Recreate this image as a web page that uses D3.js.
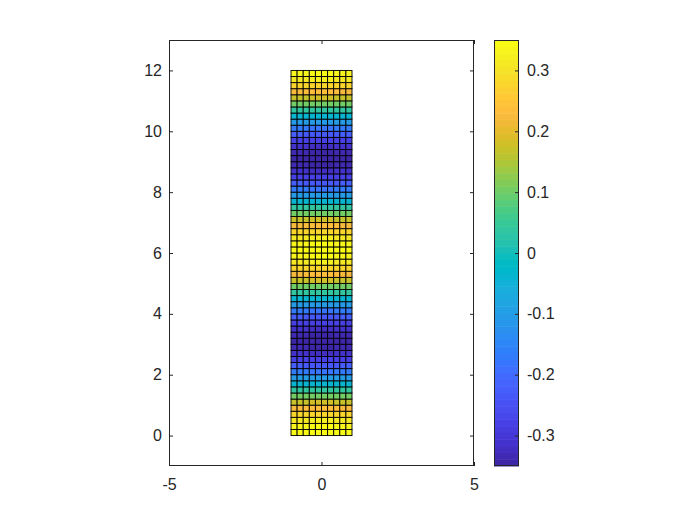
<!DOCTYPE html>
<html><head><meta charset="utf-8">
<script src="https://cdn.jsdelivr.net/npm/d3@7"></script>
<style>body{margin:0;background:#fff}svg{display:block}text{font-family:"Liberation Sans",Arial,Helvetica,sans-serif;font-size:16px;fill:#262626}</style>
</head><body><svg id="c" width="700" height="525"></svg>
<script>
// mesh node coordinates
const xNodes = [-1,-0.8,-0.6,-0.4,-0.2,0,0.2,0.4,0.6,0.8,1];
const yNodes = [0,0.2,0.4,0.6,0.8,1,1.2,1.4,1.6,1.8,2,2.2,2.4,2.6,2.8,3,3.2,3.4,3.6,3.8,4,4.2,4.4,4.6,4.8,5,5.2,5.4,5.6,5.8,6,6.2,6.4,6.6,6.8,7,7.2,7.4,7.6,7.8,8,8.2,8.4,8.6,8.8,9,9.2,9.4,9.6,9.8,10,10.2,10.4,10.6,10.8,11,11.2,11.4,11.6,11.8,12];
const rowValues = [0.350,0.342,0.320,0.283,0.234,0.175,0.108,0.037,-0.037,-0.108,-0.175,-0.234,-0.283,-0.320,-0.342,-0.350,-0.342,-0.320,-0.283,-0.234,-0.175,-0.108,-0.037,0.037,0.108,0.175,0.234,0.283,0.320,0.342,
 0.350,0.342,0.320,0.283,0.234,0.175,0.108,0.037,-0.037,-0.108,-0.175,-0.234,-0.283,-0.320,-0.342,-0.350,-0.342,-0.320,-0.283,-0.234,-0.175,-0.108,-0.037,0.037,0.108,0.175,0.234,0.283,0.320,0.342];
// slight variation across columns
const colFactors = [0.97,0.98,0.99,1.0,1.0,1.0,1.0,0.99,0.98,0.97];
const xTicks = [-5,0,5];
const yTicks = [0,2,4,6,8,10,12];
const cbTicks = [-0.3,-0.2,-0.1,0,0.1,0.2,0.3];
const cLim = [-0.35,0.35];

const parula = [[0.2422,0.1504,0.6603],[0.2504,0.1650,0.7076],[0.2578,0.1818,0.7511],[0.2647,0.1978,0.7952],[0.2706,0.2147,0.8364],[0.2751,0.2342,0.8710],[0.2783,0.2559,0.8991],[0.2803,0.2782,0.9221],[0.2813,0.3006,0.9414],[0.2810,0.3228,0.9579],[0.2795,0.3447,0.9717],[0.2760,0.3667,0.9829],[0.2699,0.3892,0.9906],[0.2602,0.4123,0.9952],[0.2440,0.4358,0.9988],[0.2206,0.4603,0.9973],[0.1963,0.4847,0.9892],[0.1834,0.5074,0.9798],[0.1786,0.5289,0.9682],[0.1764,0.5499,0.9520],[0.1687,0.5703,0.9359],[0.1540,0.5902,0.9218],[0.1460,0.6091,0.9079],[0.1380,0.6276,0.8973],[0.1248,0.6459,0.8883],[0.1113,0.6635,0.8763],[0.0952,0.6798,0.8598],[0.0689,0.6948,0.8394],[0.0297,0.7082,0.8163],[0.0036,0.7203,0.7917],[0.0067,0.7312,0.7660],[0.0433,0.7411,0.7394],[0.0964,0.7500,0.7120],[0.1408,0.7584,0.6842],[0.1717,0.7670,0.6554],[0.1938,0.7758,0.6251],[0.2161,0.7843,0.5923],[0.2470,0.7918,0.5567],[0.2906,0.7973,0.5188],[0.3406,0.8008,0.4789],[0.3909,0.8029,0.4354],[0.4456,0.8024,0.3909],[0.5044,0.7993,0.3480],[0.5616,0.7942,0.3045],[0.6174,0.7876,0.2612],[0.6720,0.7793,0.2227],[0.7242,0.7698,0.1910],[0.7738,0.7598,0.1646],[0.8203,0.7498,0.1535],[0.8634,0.7406,0.1596],[0.9035,0.7330,0.1774],[0.9393,0.7288,0.2100],[0.9728,0.7298,0.2394],[0.9956,0.7434,0.2371],[0.9970,0.7659,0.2199],[0.9952,0.7893,0.2028],[0.9892,0.8136,0.1885],[0.9786,0.8386,0.1766],[0.9676,0.8639,0.1643],[0.9610,0.8890,0.1537],[0.9597,0.9135,0.1423],[0.9628,0.9373,0.1265],[0.9691,0.9606,0.1064],[0.9769,0.9839,0.0805]];
const cmap = parula.map(c => d3.rgb(c[0]*255,c[1]*255,c[2]*255).formatHex());
const colorScale = d3.scaleQuantize().domain(cLim).range(cmap);

const svg = d3.select("#c");
const L=169,R=474,T=40,B=466;
const x = d3.scaleLinear().domain([-5,5]).range([L,R]);
const y = d3.scaleLinear().domain([-1,13]).range([B,T]);
const axCol = "#262626";
const fmt = d => String(+(+d).toFixed(1)); // plain hyphen-minus like the reference

// cells
const cells = [];
rowValues.forEach((rv,j)=>{ colFactors.forEach((cf,i)=>{ cells.push({x0:xNodes[i],x1:xNodes[i+1],y0:yNodes[j],y1:yNodes[j+1],v:rv*cf}); }); });
svg.append("g").selectAll("rect").data(cells).join("rect")
  .attr("x",d=>x(d.x0)).attr("y",d=>y(d.y1))
  .attr("width",d=>x(d.x1)-x(d.x0)).attr("height",d=>y(d.y0)-y(d.y1))
  .attr("fill",d=>colorScale(d.v)).attr("stroke","#000").attr("stroke-width",0.9);

// axes
const tl=4;
const gx=svg.append("g").attr("transform",`translate(0,${B})`).call(d3.axisBottom(x).tickValues(xTicks).tickSize(-tl).tickPadding(13).tickFormat(fmt));
const gxt=svg.append("g").attr("transform",`translate(0,${T})`).call(d3.axisTop(x).tickValues(xTicks).tickSize(-tl).tickFormat(""));
const gy=svg.append("g").attr("transform",`translate(${L},0)`).call(d3.axisLeft(y).tickValues(yTicks).tickSize(-tl).tickPadding(7).tickFormat(fmt));
const gyr=svg.append("g").attr("transform",`translate(${R},0)`).call(d3.axisRight(y).tickValues(yTicks).tickSize(-tl).tickFormat(""));
[gx,gxt,gy,gyr].forEach(g=>{g.select(".domain").remove();g.selectAll("line").attr("stroke",axCol);g.selectAll("text").attr("font-size",16).attr("fill",axCol).attr("font-family",null);});
svg.append("rect").attr("x",L+0.5).attr("y",T+0.5).attr("width",R-L-1).attr("height",B-T-1).attr("fill","none").attr("stroke",axCol).attr("stroke-width",1);

// colorbar
const CL=494,CR=519;
const cy = d3.scaleLinear().domain(cLim).range([B,T]);
const nb = cmap.length, step=(cLim[1]-cLim[0])/nb;
svg.append("g").selectAll("rect").data(cmap).join("rect")
  .attr("x",CL).attr("width",CR-CL)
  .attr("y",(c,i)=>cy(cLim[0]+(i+1)*step)).attr("height",(c,i)=>cy(cLim[0]+i*step)-cy(cLim[0]+(i+1)*step)+0.5)
  .attr("fill",c=>c);
const gc=svg.append("g").attr("transform",`translate(${CR},0)`).call(d3.axisRight(cy).tickValues(cbTicks).tickSize(-tl).tickPadding(8).tickFormat(fmt));
gc.select(".domain").remove();gc.selectAll("line").attr("stroke",axCol);gc.selectAll("text").attr("font-size",16).attr("fill",axCol).attr("font-family",null);
svg.append("rect").attr("x",CL+0.5).attr("y",T+0.5).attr("width",CR-CL-1).attr("height",B-T-1).attr("fill","none").attr("stroke",axCol).attr("stroke-width",1);
</script></body></html>
